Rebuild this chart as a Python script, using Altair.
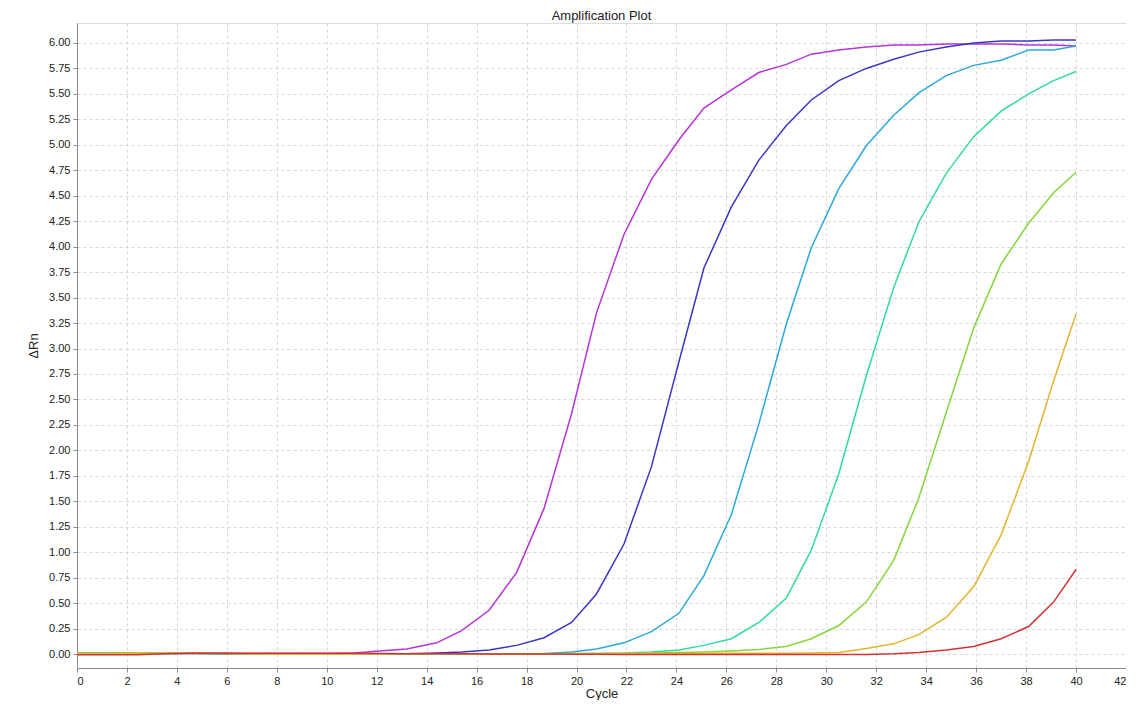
import altair as alt
import pandas as pd

cycles = [0.0, 1.3, 2.4, 3.5, 4.6, 5.7, 6.7, 7.8, 8.9, 10.0, 11.1, 12.1, 13.2, 14.4, 15.4,
          16.5, 17.6, 18.7, 19.8, 20.8, 21.9, 23.0, 24.1, 25.1, 26.2, 27.3, 28.4, 29.4,
          30.5, 31.6, 32.7, 33.7, 34.8, 35.9, 37.0, 38.1, 39.1, 40.0]

s1 = [0.003, 0.003, 0.005, 0.008, 0.010, 0.008, 0.006, 0.006, 0.006, 0.006, 0.010,
      0.03, 0.05, 0.11, 0.23, 0.43, 0.80, 1.43,
      2.36, 3.35, 4.12, 4.66, 5.05, 5.36, 5.54, 5.71, 5.79, 5.89,
      5.93, 5.96, 5.98, 5.98, 5.99, 5.99, 5.99, 5.98, 5.98, 5.97]
s2 = [0.003, 0.003, 0.004, 0.006, 0.008, 0.002, -0.003, -0.002, -0.001, 0.000, 0.000, 0.001, 0.004,
      0.010, 0.02, 0.04, 0.085, 0.16, 0.31, 0.59, 1.08,
      1.84, 2.87, 3.79, 4.39, 4.85, 5.19, 5.44, 5.63, 5.75,
      5.84, 5.91, 5.96, 6.00, 6.02, 6.02, 6.03, 6.03]
s3 = [0.012, 0.012, 0.011, 0.010, 0.008, 0.004, 0.000, -0.002, -0.002, -0.001, 0.000, 0.000,
      0.001, 0.002, 0.002, 0.003, 0.004, 0.006,
      0.02, 0.05, 0.11, 0.22, 0.40, 0.77, 1.37, 2.26, 3.24,
      3.99, 4.57, 4.99, 5.29, 5.51, 5.68, 5.78, 5.83, 5.93, 5.93, 5.97]
s4 = [0.006, 0.007, 0.008, 0.009, 0.009, 0.006, 0.002, 0.000, -0.001, 0.000, 0.000, 0.001,
      0.001, 0.002, 0.002, 0.003, 0.003, 0.004, 0.005, 0.006, 0.010,
      0.02, 0.04, 0.085, 0.15, 0.31, 0.55, 1.02, 1.77,
      2.73, 3.60, 4.24, 4.72, 5.08, 5.33, 5.50, 5.63, 5.72]
s5 = [0.008, 0.009, 0.010, 0.010, 0.009, 0.006, 0.002, 0.000, -0.001, 0.000, 0.000, 0.001,
      0.001, 0.002, 0.002, 0.003, 0.003, 0.004, 0.004, 0.005, 0.006, 0.010,
      0.015, 0.02, 0.03, 0.045, 0.075, 0.15, 0.28, 0.51,
      0.92, 1.53, 2.37, 3.20, 3.83, 4.23, 4.53, 4.73]
s6 = [0.005, 0.006, 0.007, 0.008, 0.008, 0.006, 0.003, 0.001, 0.000, 0.000, 0.001, 0.001,
      0.002, 0.002, 0.003, 0.003, 0.003, 0.004, 0.004, 0.004, 0.005, 0.005, 0.006, 0.006,
      0.007, 0.008, 0.009, 0.010,
      0.016, 0.055, 0.10, 0.19, 0.36, 0.66, 1.17, 1.89, 2.68, 3.34]
s7 = [-0.008, -0.008, -0.006, 0.002, 0.008, 0.008, 0.008, 0.008, 0.008, 0.008, 0.008, 0.006,
      0.004, 0.003, 0.002, 0.001, 0.000, 0.000, -0.002, -0.003, -0.004, -0.004, -0.005,
      -0.005, -0.005, -0.005, -0.005, -0.005, -0.005, -0.004,
      0.003, 0.016, 0.04, 0.075, 0.15, 0.27, 0.51, 0.83]

series_names = ["S1", "S2", "S3", "S4", "S5", "S6", "S7"]
series_values = [s1, s2, s3, s4, s5, s6, s7]
series_colors = ["#b534d8", "#3b36c6", "#2aa9d9", "#2fdc96", "#86d63a", "#e4b42a", "#d43232"]

x_ticks = list(range(0, 43, 2))
y_ticks = [i * 0.25 for i in range(0, 25)]

rows = []
for name, vals in zip(series_names, series_values):
    for c, v in zip(cycles, vals):
        rows.append({"series": name, "cycle": c, "drn": v})
df = pd.DataFrame(rows)

FONT = "Liberation Sans"

chart = alt.Chart(df).mark_line(strokeWidth=1.5).encode(
    x=alt.X("cycle:Q",
            scale=alt.Scale(domain=[0, 42], nice=False, zero=False),
            axis=alt.Axis(values=x_ticks, format="d", title="Cycle",
                          labelFontSize=11, titleFontSize=13, titleFontWeight="normal",
                          titlePadding=1, labelPadding=3, tickSize=4,
                          gridDash=[3, 3], gridColor="#d6d6d6", domainColor="#8a8a8a",
                          tickColor="#8a8a8a", labelColor="#222222", titleColor="#222222",
                          labelFont=FONT, titleFont=FONT)),
    y=alt.Y("drn:Q",
            scale=alt.Scale(domain=[-0.137, 6.196], nice=False, zero=False),
            axis=alt.Axis(values=y_ticks, format=".2f", title="ΔRn",
                          labelFontSize=11, titleFontSize=13, titleFontWeight="normal",
                          titlePadding=8, labelPadding=3, tickSize=4,
                          gridDash=[3, 3], gridColor="#d6d6d6", domainColor="#8a8a8a",
                          tickColor="#8a8a8a", labelColor="#222222", titleColor="#222222",
                          labelFont=FONT, titleFont=FONT)),
    color=alt.Color("series:N",
                    scale=alt.Scale(domain=series_names, range=series_colors),
                    legend=None),
    detail="series:N",
).properties(
    width=1049,
    height=645,
    title=alt.TitleParams("Amplification Plot", fontSize=13, fontWeight="normal",
                          font=FONT, color="#222222", offset=0),
    autosize=alt.AutoSizeParams(type="none"),
    padding={"left": 69, "top": 15, "right": 0, "bottom": 32},
).configure_view(
    stroke="#a8a8a8"
).configure(background="white")

chart.save("out.html", embed_options={"renderer": "svg", "actions": False})
